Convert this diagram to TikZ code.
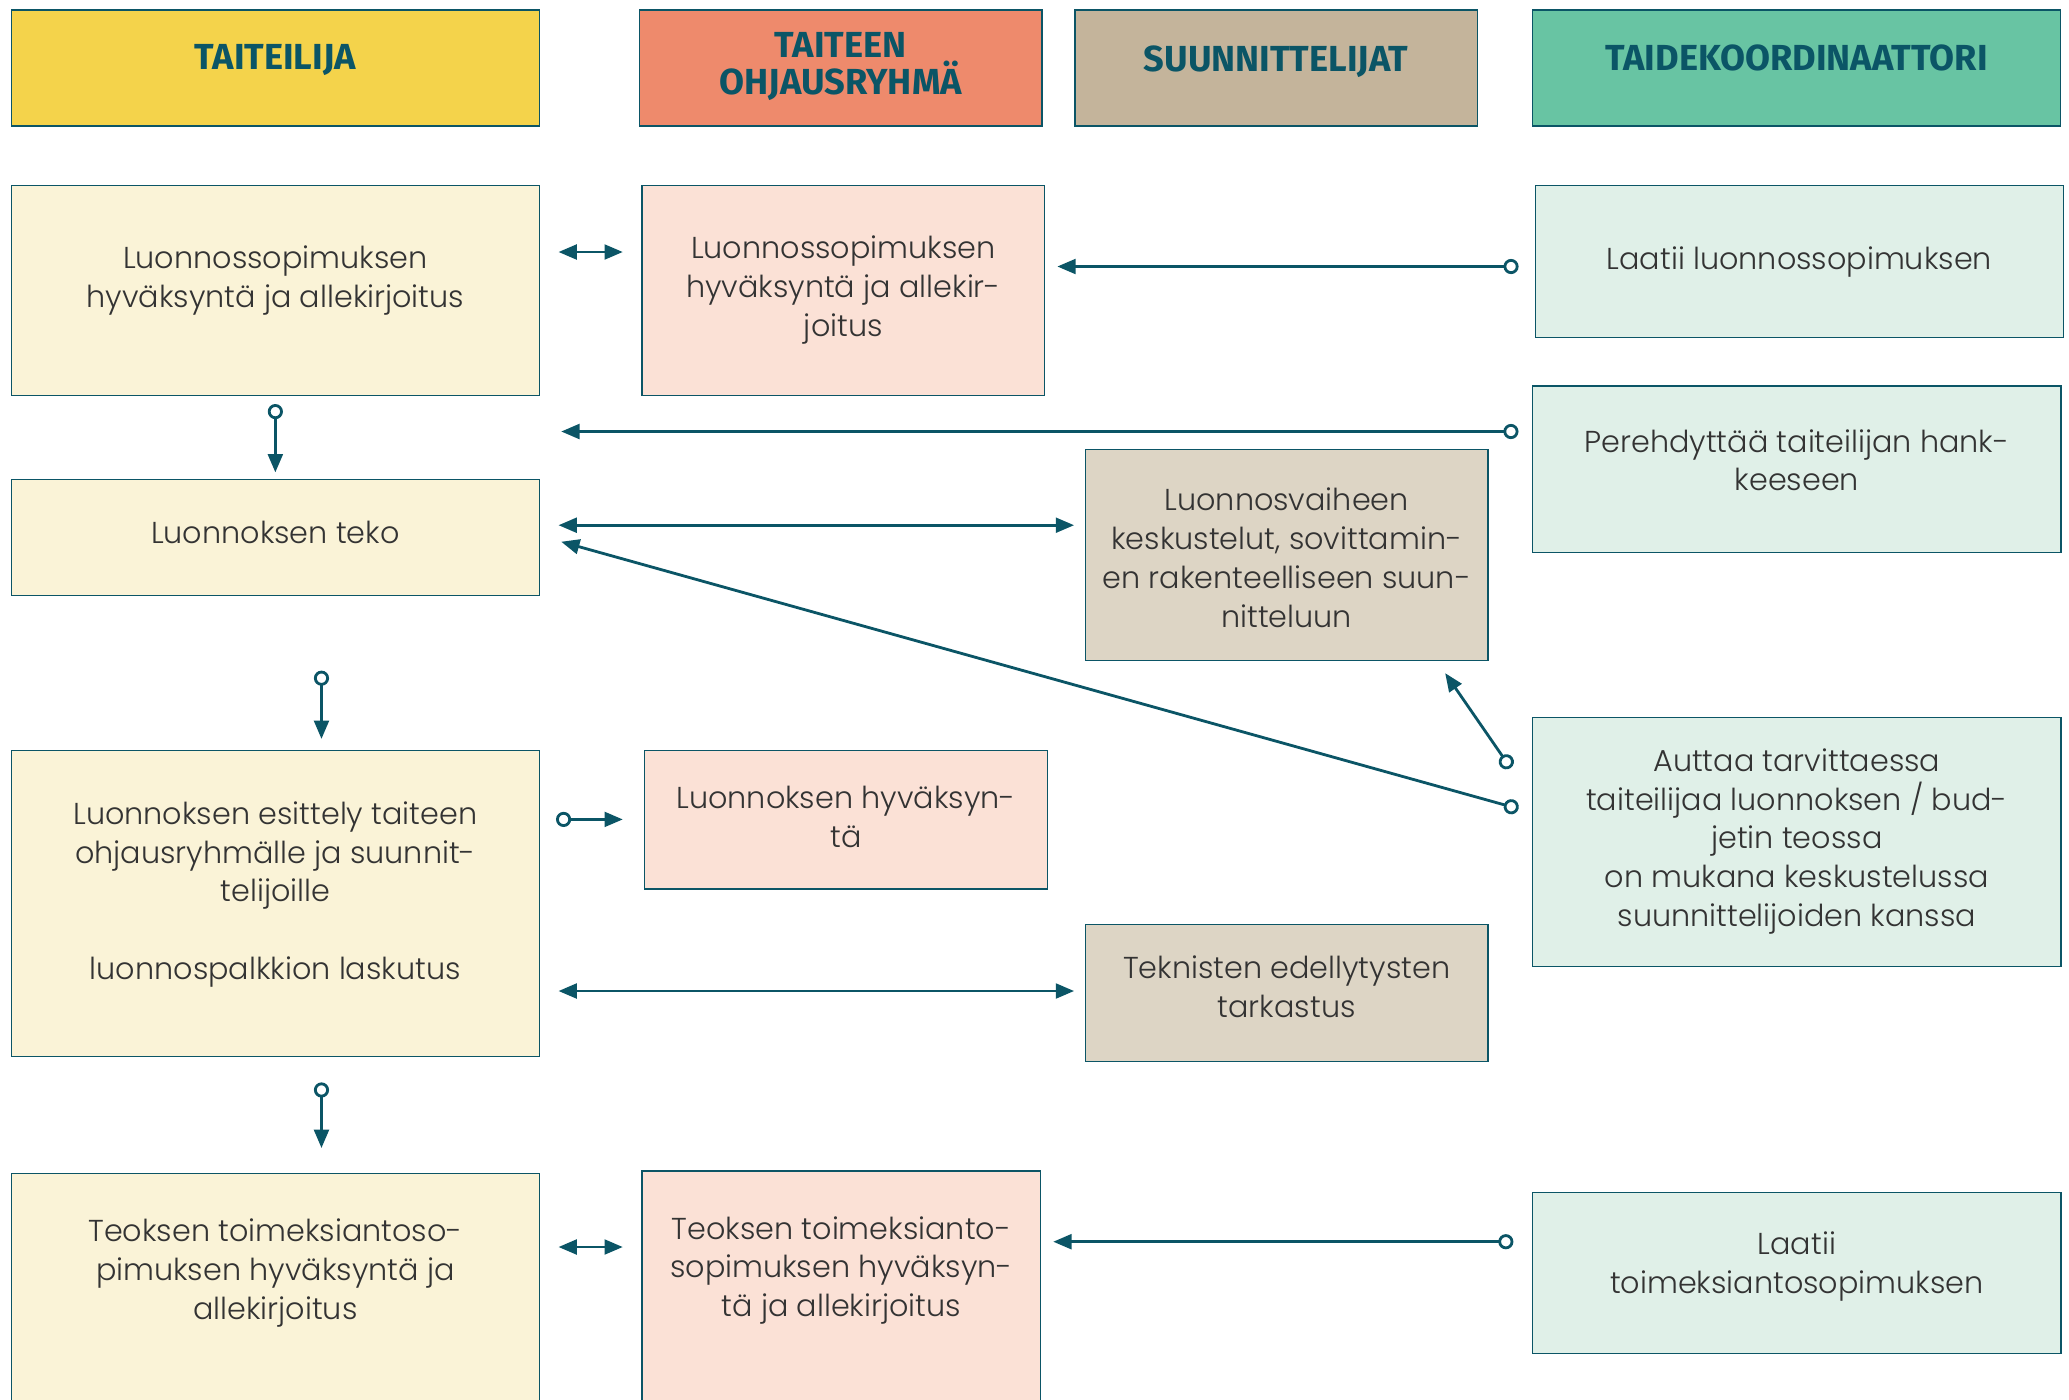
\documentclass[tikz,border=0pt]{standalone}
\usepackage{fontspec}
\setmainfont{Poppins Light}
\newfontfamily\headfont{Fira Sans}
\usetikzlibrary{arrows.meta}

\definecolor{tealline}{HTML}{0B5566}
\definecolor{txtgrey}{HTML}{333333}
\definecolor{hdyellow}{HTML}{F4D34B}
\definecolor{hdsalmon}{HTML}{EE8A6C}
\definecolor{hdtan}{HTML}{C4B49B}
\definecolor{hdgreen}{HTML}{68C4A3}
\definecolor{lyellow}{HTML}{FAF3D7}
\definecolor{lpink}{HTML}{FBE1D6}
\definecolor{ltan}{HTML}{DDD5C5}
\definecolor{lmint}{HTML}{E0F0E8}

\begin{document}
\begin{tikzpicture}[x=0.01cm, y=-0.01cm,
  box/.style={draw=tealline, line width=0.4pt, anchor=north west, inner sep=0pt},
  headtext/.style={align=center, text=tealline, font=\headfont\bfseries\fontsize{10.3}{10.5}\selectfont},
  boxtext/.style={align=center, text=txtgrey, inner sep=0pt, font=\fontsize{8.6}{11}\selectfont},
  link/.style={draw=tealline, line width=0.8pt},
  onearrow/.style={link, {Circle[open,length=4.3pt,width=4.3pt]}-{Triangle[length=5.2pt,width=4.2pt]}},
  twoarrow/.style={link, {Triangle[length=5.2pt,width=4.2pt]}-{Triangle[length=5.2pt,width=4.2pt]}}]

\useasboundingbox (0,0) rectangle (2069,1399);

% Drawing column heads
\node[box, fill=hdyellow, minimum width=5.278cm, minimum height=1.162cm,
  label={[headtext, yshift=0.08cm]center:TAITEILIJA}] (H1) at (10.6,9.2) {};
\node[box, fill=hdsalmon, minimum width=4.025cm, minimum height=1.162cm,
  label={[headtext, yshift=0.017cm]center:TAITEEN\\OHJAUSRYHMÄ}] (H2) at (638.6,9.2) {};
\node[box, fill=hdtan, minimum width=4.024cm, minimum height=1.162cm,
  label={[headtext, yshift=0.067cm]center:SUUNNITTELIJAT}] (H3) at (1074.1,9.2) {};
\node[box, fill=hdgreen, minimum width=5.278cm, minimum height=1.162cm,
  label={[headtext, yshift=0.1cm]center:TAIDEKOORDINAATTORI}] (H4) at (1531.9,9.2) {};

% Drawing boxes of TAITEILIJA
\node[box, fill=lyellow, minimum width=5.278cm, minimum height=2.098cm,
  label={[boxtext, yshift=0.097cm]center:{Luonnossopimuksen\\hyväksyntä ja allekirjoitus}}] (A1) at (10.6,184.7) {};
\node[box, fill=lyellow, minimum width=5.278cm, minimum height=1.16cm,
  label={[boxtext, yshift=0.057cm]center:{Luonnoksen teko}}] (A2) at (10.6,479) {};
\node[box, fill=lyellow, minimum width=5.278cm, minimum height=3.061cm,
  label={[boxtext, yshift=0.091cm]center:{Luonnoksen esittely taiteen\\ohjausryhmälle ja suunnit-\\telijoille\\[11pt]luonnospalkkion laskutus}}] (A3) at (10.6,749.5) {};
\node[box, fill=lyellow, minimum width=5.278cm, minimum height=2.6cm,
  label={[boxtext, yshift=0.308cm]center:{Teoksen toimeksiantoso-\\pimuksen hyväksyntä ja\\allekirjoitus}}] (A4) at (10.6,1173) {};

% Drawing boxes of TAITEEN OHJAUSRYHMÄ
\node[box, fill=lpink, minimum width=4.024cm, minimum height=2.098cm,
  label={[boxtext, yshift=0.004cm]center:{Luonnossopimuksen\\hyväksyntä ja allekir-\\joitus}}] (B1) at (641.3,184.7) {};
\node[box, fill=lpink, minimum width=4.025cm, minimum height=1.385cm,
  label={[boxtext, yshift=0.025cm]center:{Luonnoksen hyväksyn-\\tä}}] (B3) at (643.9,749.5) {};
\node[box, fill=lpink, minimum width=3.985cm, minimum height=2.6cm,
  label={[boxtext, yshift=0.308cm]center:{Teoksen toimeksianto-\\sopimuksen hyväksyn-\\tä ja allekirjoitus}}] (B4) at (641.3,1170.4) {};

% Drawing boxes of SUUNNITTELIJAT
\node[box, fill=ltan, minimum width=4.025cm, minimum height=2.112cm,
  label={[boxtext, yshift=-0.028cm]center:{Luonnosvaiheen\\keskustelut, sovittamin-\\en rakenteelliseen suun-\\nitteluun}}] (C2) at (1084.6,448.6) {};
\node[box, fill=ltan, minimum width=4.025cm, minimum height=1.372cm,
  label={[boxtext, yshift=0.064cm]center:{Teknisten edellytysten\\tarkastus}}] (C3) at (1084.6,923.7) {};

% Drawing boxes of TAIDEKOORDINAATTORI
\node[box, fill=lmint, minimum width=5.278cm, minimum height=1.518cm,
  label={[boxtext, yshift=-0.002cm]center:{Laatii luonnossopimuksen}}] (D1) at (1534.6,184.7) {};
\node[box, fill=lmint, minimum width=5.28cm, minimum height=1.663cm,
  label={[boxtext, yshift=0.091cm]center:{Perehdyttää taiteilijan hank-\\keeseen}}] (D2) at (1532,385.3) {};
\node[box, fill=lmint, minimum width=5.28cm, minimum height=2.494cm,
  label={[boxtext, yshift=0.005cm]center:{Auttaa tarvittaessa\\taiteilijaa luonnoksen / bud-\\jetin teossa\\on mukana keskustelussa\\suunnittelijoiden kanssa}}] (D3) at (1532,716.5) {};
\node[box, fill=lmint, minimum width=5.28cm, minimum height=1.61cm,
  label={[boxtext, yshift=0.064cm]center:{Laatii\\toimeksiantosopimuksen}}] (D4) at (1532,1191.5) {};

% Drawing arrows of the contract sketch
\draw[twoarrow, shorten <=0.184cm, shorten >=0.185cm] (A1.east |- 0,252) -- (B1.west |- 0,252);
\draw[onearrow, shorten <=0.16cm, shorten >=0.12cm] (D1.west |- 0,266.5) -- (B1.east |- 0,266.5);
\draw[onearrow, shorten <=0.135cm, shorten >=0.211cm] (D2.west |- 0,431.5) -- (A1.east |- 0,431.5);
\draw[onearrow, shorten <=0.08cm, shorten >=0.066cm] (A1.south) -- (A2.north);

% Drawing arrows of the sketch
\draw[twoarrow, shorten <=0.184cm, shorten >=0.105cm] (A2.east |- 0,525.2) -- (C2.west |- 0,525.2);
\draw[onearrow] ([shift={(-13.5,-33.2)}]D3.west) -- ([shift={(21.1,4)}]A2.east);
\draw[onearrow] ([shift={(-21.4,51.5)}]D3.north west) -- ([shift={(-43.6,11.8)}]C2.south east);
\draw[onearrow, shorten <=0.741cm, shorten >=0.106cm] ([xshift=0.461cm]A2.south) -- ([xshift=0.461cm]A3.north);

% Drawing arrows of the presentation
\draw[onearrow, shorten <=0.159cm, shorten >=0.211cm] (A3.east |- 0,819.4) -- (B3.west |- 0,819.4);
\draw[twoarrow, shorten <=0.184cm, shorten >=0.105cm] (A3.east |- 0,991) -- (C3.west |- 0,991);
\draw[onearrow, shorten <=0.252cm, shorten >=0.25cm] ([xshift=0.461cm]A3.south) -- ([xshift=0.461cm]A4.north);

% Drawing arrows of the commission contract
\draw[twoarrow, shorten <=0.184cm, shorten >=0.185cm] (A4.east |- 0,1247) -- (B4.west |- 0,1247);
\draw[onearrow, shorten <=0.186cm, shorten >=0.118cm] (D4.west |- 0,1241.7) -- (B4.east |- 0,1241.7);
\end{tikzpicture}
\end{document}
